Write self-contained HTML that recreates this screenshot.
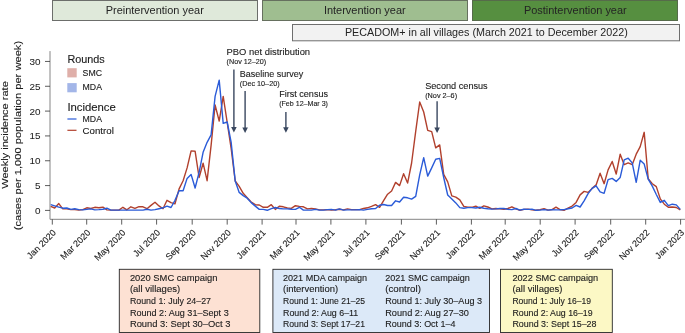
<!DOCTYPE html>
<html lang="en"><head><meta charset="utf-8"><title>Weekly incidence rate</title>
<style>html,body{margin:0;padding:0;background:#fff;overflow:hidden}svg{display:block}text{font-family:"Liberation Sans", Arial, sans-serif;fill:#1c1c1c;stroke:#1c1c1c;stroke-width:0.12px}text.hd{stroke-width:0;fill:#242424}text.lt{stroke-width:0.05px;fill:#1c1c1c}</style>
</head><body>
<svg width="685" height="333" viewBox="0 0 685 333">
<rect width="685" height="333" fill="#fff"/>
<rect x="52.5" y="0.5" width="205" height="20" fill="#dfe9da" stroke="#6c6e6b" stroke-width="1"/>
<rect x="262.5" y="0.5" width="205" height="20" fill="#9fbe90" stroke="#66705f" stroke-width="1"/>
<rect x="472.5" y="0.5" width="205" height="20" fill="#568f40" stroke="#566b4a" stroke-width="1"/>
<rect x="292.5" y="24.5" width="387" height="16.3" fill="#f2f2f2" stroke="#6e6e6e" stroke-width="1"/>
<text x="105.7" y="13.9" font-size="10.3" text-anchor="start" textLength="98.1" lengthAdjust="spacingAndGlyphs" class="hd">Preintervention year</text>
<text x="323.9" y="13.9" font-size="10.3" text-anchor="start" textLength="81.8" lengthAdjust="spacingAndGlyphs" class="hd">Intervention year</text>
<text x="523.9" y="13.9" font-size="10.3" text-anchor="start" textLength="102.8" lengthAdjust="spacingAndGlyphs" class="hd">Postintervention year</text>
<text x="344.9" y="36.2" font-size="10.3" text-anchor="start" textLength="282.9" lengthAdjust="spacingAndGlyphs" class="hd">PECADOM+ in all villages (March 2021 to December 2022)</text>
<path d="M50 51.1V219.3H685" fill="none" stroke="#858585" stroke-width="1"/>
<path d="M45 210.40H50" stroke="#333" stroke-width="0.8"/>
<text x="40.5" y="213.9" font-size="9.8" text-anchor="end" textLength="5.5" lengthAdjust="spacingAndGlyphs" class="lt">0</text>
<path d="M45 185.58H50" stroke="#333" stroke-width="0.8"/>
<text x="40.5" y="189.1" font-size="9.8" text-anchor="end" textLength="5.5" lengthAdjust="spacingAndGlyphs" class="lt">5</text>
<path d="M45 160.75H50" stroke="#333" stroke-width="0.8"/>
<text x="40.5" y="164.2" font-size="9.8" text-anchor="end" textLength="11.0" lengthAdjust="spacingAndGlyphs" class="lt">10</text>
<path d="M45 135.93H50" stroke="#333" stroke-width="0.8"/>
<text x="40.5" y="139.4" font-size="9.8" text-anchor="end" textLength="11.0" lengthAdjust="spacingAndGlyphs" class="lt">15</text>
<path d="M45 111.10H50" stroke="#333" stroke-width="0.8"/>
<text x="40.5" y="114.6" font-size="9.8" text-anchor="end" textLength="11.0" lengthAdjust="spacingAndGlyphs" class="lt">20</text>
<path d="M45 86.28H50" stroke="#333" stroke-width="0.8"/>
<text x="40.5" y="89.8" font-size="9.8" text-anchor="end" textLength="11.0" lengthAdjust="spacingAndGlyphs" class="lt">25</text>
<path d="M45 61.45H50" stroke="#333" stroke-width="0.8"/>
<text x="40.5" y="65.0" font-size="9.8" text-anchor="end" textLength="11.0" lengthAdjust="spacingAndGlyphs" class="lt">30</text>
<path d="M52.3 219.3V224.6" stroke="#333" stroke-width="0.8"/>
<text font-size="9" text-anchor="end" transform="translate(56.6 233.3) rotate(-45)">Jan 2020</text>
<path d="M86.7 219.3V224.6" stroke="#333" stroke-width="0.8"/>
<text font-size="9" text-anchor="end" transform="translate(91.0 233.3) rotate(-45)">Mar 2020</text>
<path d="M121.7 219.3V224.6" stroke="#333" stroke-width="0.8"/>
<text font-size="9" text-anchor="end" transform="translate(126.0 233.3) rotate(-45)">May 2020</text>
<path d="M156.6 219.3V224.6" stroke="#333" stroke-width="0.8"/>
<text font-size="9" text-anchor="end" transform="translate(160.9 233.3) rotate(-45)">Jul 2020</text>
<path d="M192.2 219.3V224.6" stroke="#333" stroke-width="0.8"/>
<text font-size="9" text-anchor="end" transform="translate(196.5 233.3) rotate(-45)">Sep 2020</text>
<path d="M227.2 219.3V224.6" stroke="#333" stroke-width="0.8"/>
<text font-size="9" text-anchor="end" transform="translate(231.5 233.3) rotate(-45)">Nov 2020</text>
<path d="M262.1 219.3V224.6" stroke="#333" stroke-width="0.8"/>
<text font-size="9" text-anchor="end" transform="translate(266.4 233.3) rotate(-45)">Jan 2021</text>
<path d="M296.0 219.3V224.6" stroke="#333" stroke-width="0.8"/>
<text font-size="9" text-anchor="end" transform="translate(300.3 233.3) rotate(-45)">Mar 2021</text>
<path d="M330.9 219.3V224.6" stroke="#333" stroke-width="0.8"/>
<text font-size="9" text-anchor="end" transform="translate(335.2 233.3) rotate(-45)">May 2021</text>
<path d="M365.9 219.3V224.6" stroke="#333" stroke-width="0.8"/>
<text font-size="9" text-anchor="end" transform="translate(370.2 233.3) rotate(-45)">Jul 2021</text>
<path d="M401.4 219.3V224.6" stroke="#333" stroke-width="0.8"/>
<text font-size="9" text-anchor="end" transform="translate(405.7 233.3) rotate(-45)">Sep 2021</text>
<path d="M436.4 219.3V224.6" stroke="#333" stroke-width="0.8"/>
<text font-size="9" text-anchor="end" transform="translate(440.7 233.3) rotate(-45)">Nov 2021</text>
<path d="M471.4 219.3V224.6" stroke="#333" stroke-width="0.8"/>
<text font-size="9" text-anchor="end" transform="translate(475.7 233.3) rotate(-45)">Jan 2022</text>
<path d="M505.2 219.3V224.6" stroke="#333" stroke-width="0.8"/>
<text font-size="9" text-anchor="end" transform="translate(509.5 233.3) rotate(-45)">Mar 2022</text>
<path d="M540.2 219.3V224.6" stroke="#333" stroke-width="0.8"/>
<text font-size="9" text-anchor="end" transform="translate(544.5 233.3) rotate(-45)">May 2022</text>
<path d="M575.1 219.3V224.6" stroke="#333" stroke-width="0.8"/>
<text font-size="9" text-anchor="end" transform="translate(579.4 233.3) rotate(-45)">Jul 2022</text>
<path d="M610.7 219.3V224.6" stroke="#333" stroke-width="0.8"/>
<text font-size="9" text-anchor="end" transform="translate(615.0 233.3) rotate(-45)">Sep 2022</text>
<path d="M645.7 219.3V224.6" stroke="#333" stroke-width="0.8"/>
<text font-size="9" text-anchor="end" transform="translate(650.0 233.3) rotate(-45)">Nov 2022</text>
<path d="M680.6 219.3V224.6" stroke="#333" stroke-width="0.8"/>
<text font-size="9" text-anchor="end" transform="translate(684.9 233.3) rotate(-45)">Jan 2023</text>
<text font-size="9.6" text-anchor="middle" textLength="107.6" lengthAdjust="spacingAndGlyphs" transform="translate(8.2 135) rotate(-90)">Weekly incidence rate</text>
<text font-size="9.6" text-anchor="middle" textLength="189.4" lengthAdjust="spacingAndGlyphs" transform="translate(20.8 135.6) rotate(-90)">(cases per 1,000 population per week)</text>
<text x="67.4" y="63.3" font-size="10" text-anchor="start" textLength="37.3" lengthAdjust="spacingAndGlyphs">Rounds</text>
<rect x="67.3" y="68.2" width="9.4" height="9.2" fill="#dfafa9"/>
<text x="82.6" y="75.6" font-size="8.6" text-anchor="start" textLength="19.4" lengthAdjust="spacingAndGlyphs">SMC</text>
<rect x="67.3" y="83.1" width="9.4" height="9.2" fill="#a3b6e8"/>
<text x="82.6" y="90.3" font-size="8.6" text-anchor="start" textLength="19.4" lengthAdjust="spacingAndGlyphs">MDA</text>
<text x="67.4" y="111.3" font-size="10" text-anchor="start" textLength="48.4" lengthAdjust="spacingAndGlyphs">Incidence</text>
<path d="M67.4 119H76.5" stroke="#2a5bd8" stroke-width="1.2"/>
<text x="82.6" y="121.8" font-size="8.6" text-anchor="start" textLength="19.4" lengthAdjust="spacingAndGlyphs">MDA</text>
<path d="M67.4 130.3H76.5" stroke="#b1402d" stroke-width="1.2"/>
<text x="82.6" y="133.6" font-size="8.6" text-anchor="start" textLength="31.2" lengthAdjust="spacingAndGlyphs">Control</text>
<polyline points="50.7,206.3 54.7,208.0 58.8,203.6 62.8,208.9 66.8,208.9 70.8,209.6 74.8,209.6 78.8,210.1 82.8,209.6 86.8,207.8 90.8,208.5 94.8,207.3 98.9,207.8 102.9,207.1 106.9,209.9 110.9,210.1 114.9,210.1 118.9,210.1 122.9,207.3 126.9,209.8 130.9,206.8 134.9,208.4 139.0,206.6 143.0,206.8 147.0,208.7 151.0,205.4 155.0,202.2 159.0,205.9 163.0,208.7 167.0,200.3 171.0,202.6 175.0,203.8 179.1,188.9 183.1,180.7 187.1,167.9 191.1,150.9 195.1,151.2 199.1,177.5 203.1,163.2 207.1,180.7 211.1,145.3 215.1,105.0 219.2,121.1 223.2,96.4 227.2,122.5 231.2,148.8 235.2,181.0 239.2,186.3 243.2,193.3 247.2,197.7 251.2,202.0 255.3,204.7 259.3,205.0 263.3,207.3 267.3,207.3 271.3,204.7 275.3,209.4 279.3,206.3 283.3,206.8 287.3,208.0 291.3,208.4 295.4,205.7 299.4,206.4 303.4,206.8 307.4,208.9 311.4,208.4 315.4,208.9 319.4,209.9 323.4,209.9 327.4,209.6 331.4,210.1 335.5,209.8 339.5,209.2 343.5,209.9 347.5,208.9 351.5,209.6 355.5,209.6 359.5,209.6 363.5,208.5 367.5,207.8 371.5,206.4 375.6,204.7 379.6,207.3 383.6,200.6 387.6,194.2 391.6,191.0 395.6,182.4 399.6,185.6 403.6,173.7 407.6,183.1 411.6,163.0 415.7,131.3 419.7,102.0 423.7,112.0 427.7,130.4 431.7,131.6 435.7,147.9 439.7,144.9 443.7,174.4 447.7,181.9 451.8,195.9 455.8,197.1 459.8,199.9 463.8,206.4 467.8,207.3 471.8,207.3 475.8,206.1 479.8,208.4 483.8,205.9 487.8,207.0 491.9,208.9 495.9,208.5 499.9,208.9 503.9,209.2 507.9,208.5 511.9,206.8 515.9,208.9 519.9,210.3 523.9,209.4 527.9,209.1 532.0,209.9 536.0,210.3 540.0,209.6 544.0,208.7 548.0,210.1 552.0,209.6 556.0,207.1 560.0,209.6 564.0,210.3 568.0,208.2 572.1,206.1 576.1,202.4 580.1,194.9 584.1,191.4 588.1,192.4 592.1,188.4 596.1,184.9 600.1,173.2 604.1,183.7 608.1,169.9 612.2,161.5 616.2,174.0 620.2,154.2 624.2,164.7 628.2,162.9 632.2,164.7 636.2,154.2 640.2,146.6 644.2,132.3 648.2,178.8 652.3,183.7 656.3,186.6 660.3,198.9 664.3,204.2 668.3,207.3 672.3,207.0 676.3,207.5 680.3,209.9" fill="none" stroke="#b1402d" stroke-width="1.4" stroke-linejoin="round"/>
<polyline points="50.7,204.7 54.7,205.9 58.8,207.1 62.8,208.2 66.8,208.0 70.8,209.4 74.8,208.7 78.8,209.6 82.8,209.9 86.8,209.4 90.8,208.9 94.8,209.9 98.9,209.6 102.9,209.2 106.9,208.2 110.9,210.1 114.9,210.1 118.9,210.1 122.9,210.1 126.9,210.1 130.9,210.1 134.9,210.1 139.0,210.1 143.0,210.1 147.0,209.2 151.0,210.1 155.0,209.6 159.0,208.7 163.0,207.8 167.0,206.2 171.0,207.5 175.0,200.3 179.1,190.7 183.1,190.7 187.1,178.4 191.1,174.4 195.1,188.0 199.1,172.3 203.1,152.3 207.1,142.3 211.1,134.8 215.1,96.4 219.2,80.1 223.2,123.4 227.2,122.0 231.2,142.7 235.2,181.0 239.2,192.4 243.2,195.6 247.2,198.2 251.2,202.6 255.3,206.1 259.3,209.4 263.3,209.4 267.3,210.3 271.3,208.7 275.3,207.5 279.3,208.5 283.3,208.9 287.3,208.9 291.3,209.2 295.4,209.4 299.4,207.3 303.4,210.1 307.4,210.1 311.4,210.1 315.4,209.4 319.4,210.1 323.4,210.1 327.4,209.6 331.4,209.4 335.5,210.1 339.5,208.9 343.5,210.1 347.5,209.9 351.5,209.9 355.5,209.9 359.5,209.6 363.5,210.1 367.5,209.4 371.5,208.7 375.6,208.5 379.6,205.2 383.6,204.5 387.6,205.5 391.6,205.5 395.6,200.8 399.6,202.0 403.6,197.3 407.6,197.8 411.6,199.1 415.7,196.3 419.7,174.9 423.7,157.6 427.7,176.1 431.7,167.9 435.7,159.3 439.7,158.4 443.7,177.5 447.7,195.0 451.8,198.9 455.8,202.9 459.8,207.6 463.8,208.2 467.8,207.6 471.8,207.6 475.8,208.0 479.8,207.3 483.8,208.2 487.8,208.7 491.9,209.1 495.9,208.9 499.9,208.5 503.9,208.5 507.9,209.4 511.9,209.6 515.9,208.5 519.9,210.1 523.9,209.2 527.9,209.4 532.0,209.2 536.0,210.3 540.0,210.1 544.0,209.6 548.0,210.1 552.0,209.8 556.0,209.9 560.0,209.8 564.0,209.6 568.0,208.7 572.1,208.0 576.1,205.4 580.1,207.0 584.1,200.8 588.1,193.6 592.1,188.4 596.1,185.8 600.1,191.9 604.1,193.3 608.1,179.6 612.2,178.4 616.2,181.4 620.2,177.4 624.2,159.9 628.2,158.2 632.2,162.9 636.2,182.3 640.2,160.3 644.2,164.1 648.2,179.1 652.3,186.1 656.3,194.5 660.3,202.4 664.3,200.3 668.3,205.6 672.3,204.2 676.3,204.9 680.3,209.4" fill="none" stroke="#2a5bd8" stroke-width="1.4" stroke-linejoin="round"/>
<path d="M233.9 69.4V129.5" stroke="#39475f" stroke-width="1.4" fill="none"/>
<path d="M231.1 127.1L233.9 132.5L236.70000000000002 127.1Z" fill="#39475f"/>
<path d="M245.1 91.1V130.0" stroke="#39475f" stroke-width="1.4" fill="none"/>
<path d="M242.29999999999998 127.6L245.1 133.0L247.9 127.6Z" fill="#39475f"/>
<path d="M285.9 111.9V129.7" stroke="#39475f" stroke-width="1.4" fill="none"/>
<path d="M283.09999999999997 127.29999999999998L285.9 132.7L288.7 127.29999999999998Z" fill="#39475f"/>
<path d="M437.1 101.2V130.0" stroke="#39475f" stroke-width="1.4" fill="none"/>
<path d="M434.3 127.6L437.1 133.0L439.90000000000003 127.6Z" fill="#39475f"/>
<text x="226.6" y="54.8" font-size="9.5" text-anchor="start" textLength="83.5" lengthAdjust="spacingAndGlyphs">PBO net distribution</text>
<text x="226.6" y="63.6" font-size="6.9" text-anchor="start" textLength="39.5" lengthAdjust="spacingAndGlyphs">(Nov 12–20)</text>
<text x="239.8" y="76.9" font-size="9.5" text-anchor="start" textLength="63.5" lengthAdjust="spacingAndGlyphs">Baseline survey</text>
<text x="239.8" y="85.7" font-size="6.9" text-anchor="start" textLength="39.8" lengthAdjust="spacingAndGlyphs">(Dec 10–20)</text>
<text x="279.2" y="97.3" font-size="9.5" text-anchor="start" textLength="48.8" lengthAdjust="spacingAndGlyphs">First census</text>
<text x="279.2" y="105.7" font-size="6.9" text-anchor="start" textLength="48.8" lengthAdjust="spacingAndGlyphs">(Feb 12–Mar 3)</text>
<text x="425.2" y="88.5" font-size="9.5" text-anchor="start" textLength="62.5" lengthAdjust="spacingAndGlyphs">Second census</text>
<text x="425.2" y="97.5" font-size="6.9" text-anchor="start" textLength="31.9" lengthAdjust="spacingAndGlyphs">(Nov 2–6)</text>
<rect x="119.3" y="269.3" width="140.5" height="63.2" fill="#fde1d3" stroke="#262626" stroke-width="0.9"/>
<rect x="272.9" y="269.3" width="216.6" height="63.2" fill="#dce9f8" stroke="#262626" stroke-width="0.9"/>
<rect x="500.5" y="269.3" width="111.8" height="63.2" fill="#fcf8c5" stroke="#262626" stroke-width="0.9"/>
<text x="129.9" y="280.8" font-size="9.6" text-anchor="start" textLength="87.6" lengthAdjust="spacingAndGlyphs">2020 SMC campaign</text>
<text x="129.9" y="291.9" font-size="9.6" text-anchor="start" textLength="50.2" lengthAdjust="spacingAndGlyphs">(all villages)</text>
<text x="129.9" y="303.7" font-size="9.6" text-anchor="start" textLength="81.1" lengthAdjust="spacingAndGlyphs">Round 1: July 24–27</text>
<text x="129.9" y="315.7" font-size="9.6" text-anchor="start" textLength="98.8" lengthAdjust="spacingAndGlyphs">Round 2: Aug 31–Sept 3</text>
<text x="129.9" y="327.3" font-size="9.6" text-anchor="start" textLength="100.5" lengthAdjust="spacingAndGlyphs">Round 3: Sept 30–Oct 3</text>
<text x="283" y="280.8" font-size="9.6" text-anchor="start" textLength="84.1" lengthAdjust="spacingAndGlyphs">2021 MDA campaign</text>
<text x="283" y="291.9" font-size="9.6" text-anchor="start" textLength="55.1" lengthAdjust="spacingAndGlyphs">(intervention)</text>
<text x="283" y="303.7" font-size="9.6" text-anchor="start" textLength="82" lengthAdjust="spacingAndGlyphs">Round 1: June 21–25</text>
<text x="283" y="315.7" font-size="9.6" text-anchor="start" textLength="75.3" lengthAdjust="spacingAndGlyphs">Round 2: Aug 6–11</text>
<text x="283" y="327.3" font-size="9.6" text-anchor="start" textLength="82" lengthAdjust="spacingAndGlyphs">Round 3: Sept 17–21</text>
<text x="385.2" y="280.8" font-size="9.6" text-anchor="start" textLength="84.7" lengthAdjust="spacingAndGlyphs">2021 SMC campaign</text>
<text x="385.2" y="291.9" font-size="9.6" text-anchor="start" textLength="35.7" lengthAdjust="spacingAndGlyphs">(control)</text>
<text x="385.2" y="303.7" font-size="9.6" text-anchor="start" textLength="96.9" lengthAdjust="spacingAndGlyphs">Round 1: July 30–Aug 3</text>
<text x="385.2" y="315.7" font-size="9.6" text-anchor="start" textLength="83.7" lengthAdjust="spacingAndGlyphs">Round 2: Aug 27–30</text>
<text x="385.2" y="327.3" font-size="9.6" text-anchor="start" textLength="70.4" lengthAdjust="spacingAndGlyphs">Round 3: Oct 1–4</text>
<text x="512.4" y="280.8" font-size="9.6" text-anchor="start" textLength="85.8" lengthAdjust="spacingAndGlyphs">2022 SMC campaign</text>
<text x="512.4" y="291.9" font-size="9.6" text-anchor="start" textLength="50" lengthAdjust="spacingAndGlyphs">(all villages)</text>
<text x="512.4" y="303.7" font-size="9.6" text-anchor="start" textLength="78.6" lengthAdjust="spacingAndGlyphs">Round 1: July 16–19</text>
<text x="512.4" y="315.7" font-size="9.6" text-anchor="start" textLength="80.2" lengthAdjust="spacingAndGlyphs">Round 2: Aug 16–19</text>
<text x="512.4" y="327.3" font-size="9.6" text-anchor="start" textLength="84.1" lengthAdjust="spacingAndGlyphs">Round 3: Sept 15–28</text>
</svg></body></html>
